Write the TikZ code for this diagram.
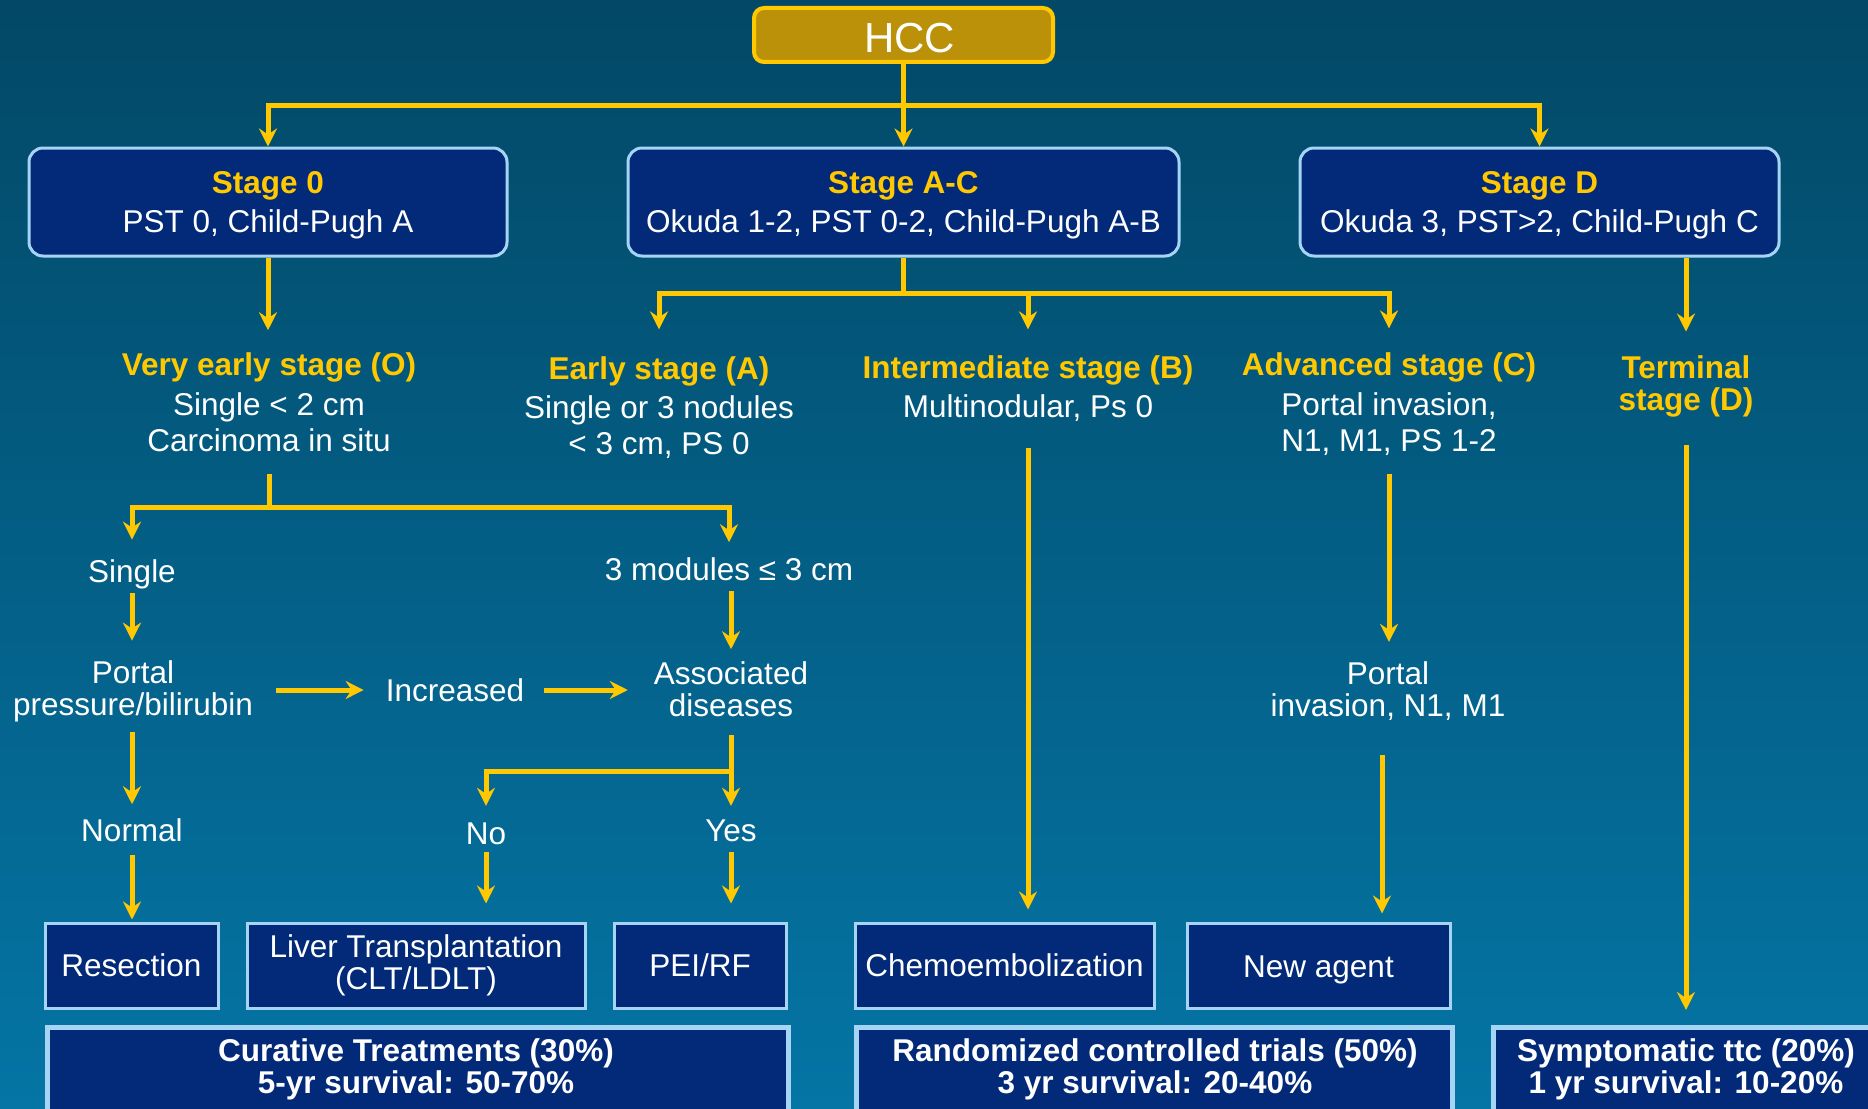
\documentclass[tikz,border=0pt]{standalone}
\usepackage{fontspec}
\setmainfont{Liberation Sans}
\usetikzlibrary{arrows.meta,calc}
\definecolor{ylw}{HTML}{FFC800}
\definecolor{navy}{HTML}{022A78}
\definecolor{lblue}{HTML}{A6D4F5}
\definecolor{gold}{HTML}{BC910A}
\definecolor{bgtop}{HTML}{034866}
\definecolor{bgbot}{HTML}{0475A5}
\newcommand{\fsn}{\fontsize{31.5}{36}\selectfont}
\newcommand{\fst}{\fontsize{31.5}{32}\selectfont}
\newcommand{\fbb}{\fontsize{31.5}{32}\selectfont\bfseries}
\newcommand{\upstrut}{\rule{0pt}{28pt}}
\begin{document}
\begin{tikzpicture}[x=1pt,y=-1pt,
 ln/.style={draw=ylw, line width=5pt},
 arr/.style={ln, -{Stealth[length=18pt,width=18pt,inset=6pt]}},
 txt/.style={text=white, align=center, font=\fsn, inner sep=0pt},
 txtt/.style={text=white, align=center, font=\fst, inner sep=0pt},
 stagebox/.style={draw=lblue, line width=3pt, fill=navy, rounded corners=14pt, align=center, text=white, font=\fsn, minimum height=108pt, inner sep=0pt},
 treatbox/.style={draw=lblue, line width=3pt, fill=navy, minimum height=85pt, align=center, text=white, font=\fst, inner sep=0pt},
 bigbox/.style={draw=lblue, line width=5pt, fill=navy, inner sep=0pt, anchor=north west, minimum height=110pt},
 bigtxt/.style={text=white, align=center, font=\fbb, inner sep=0pt},
]
\useasboundingbox (0,0) rectangle (1868,1108);
\shade[top color=bgtop, bottom color=bgbot] (0,0) rectangle (1868,1108);
\clip (0,0) rectangle (1868,1108);

% top
\node[draw=ylw, line width=4pt, fill=gold, rounded corners=10pt, minimum width=299pt, minimum height=54pt, text=white, font=\fontsize{42}{48}\selectfont, inner sep=0pt] (hcc) at (903.5,35) {\hspace*{12pt}HCC\rule{0pt}{35pt}};

\node[stagebox, minimum width=478pt] (s0) at (268,202) {\upstrut\textcolor{ylw}{\bfseries Stage 0}\\[3pt] PST 0, Child-Pugh A};
\node[stagebox, minimum width=551pt] (sAC) at (903.5,202) {\upstrut\textcolor{ylw}{\bfseries Stage A-C}\\[3pt] Okuda 1-2, PST 0-2, Child-Pugh A-B};
\node[stagebox, minimum width=479pt] (sD) at (1539.5,202) {\upstrut\textcolor{ylw}{\bfseries Stage D}\\[3pt] Okuda 3, PST>2, Child-Pugh C};

% stage texts
\node[txt] (vearly) at (269,402) {\textcolor{ylw}{\bfseries Very early stage (O)}\\[4pt] Single < 2 cm\\ Carcinoma in situ};
\node[txt] (early) at (659,407.5) {\textcolor{ylw}{\bfseries Early stage (A)}\\[3pt] Single or 3 nodules\\ < 3 cm, PS 0};
\node[txt] (inter) at (1028,388.5) {\textcolor{ylw}{\bfseries Intermediate stage (B)}\\[3pt] Multinodular, Ps 0};
\node[txt] (adv) at (1389,404) {\textcolor{ylw}{\bfseries Advanced stage (C)}\\[4pt] Portal invasion,\\ N1, M1, PS 1-2};
\node[txt, text=ylw, font=\fbb] (term) at (1686,386.5) {Terminal\\ stage (D)};

% sub texts
\node[txt] (single) at (132,574.5) {Single};
\node[txt] (modules) at (729,569) {3 modules ≤ 3 cm};
\node[txtt] (portal) at (133,691.5) {Portal\\ pressure/bilirubin};
\node[txt] (incr) at (455,690) {Increased};
\node[txtt] (assoc) at (731,689) {Associated\\ diseases};
\node[txt] (normal) at (132,830) {Normal};
\node[txt] (no) at (486,834) {No};
\node[txt] (yes) at (731,831) {Yes};
\node[txtt] (portal2) at (1388,691.5) {Portal\\ invasion, N1, M1};

% treatments
\node[treatbox, minimum width=173pt] (resec) at (131.5,965.5) {Resection};
\node[treatbox, minimum width=338pt] (lt) at (416,965.5) {Liver Transplantation\\ (CLT/LDLT)};
\node[treatbox, minimum width=172pt] (pei) at (700,965.5) {PEI/RF};
\node[treatbox, minimum width=299pt] (chemo) at (1004.5,965.5) {Chemoembolization};
\node[treatbox, minimum width=263pt] (newag) at (1318.5,965.5) {New agent\rule{0pt}{29.6pt}};

% bottom boxes
\node[bigbox, minimum width=741pt] (curbox) at (45,1025) {};
\node[bigbox, minimum width=596pt] (rctbox) at (854,1025) {};
\node[bigbox, minimum width=400pt] (symbox) at (1491,1025) {};
\node[bigtxt] (curtxt) at (416,1069.5) {Curative Treatments (30\%)\\ 5-yr survival: 50-70\%};
\node[bigtxt] (rcttxt) at (1155,1069.5) {Randomized controlled trials (50\%)\\ 3 yr survival: 20-40\%};
\node[bigtxt] (symtxt) at (1686,1069.5) {Symptomatic ttc (20\%)\\ 1 yr survival: 10-20\%};

% connectors
\coordinate (jH) at (903.5,105);
\draw[ln] (hcc.south) -- (jH);
\draw[arr] (jH) -| (s0.north);
\draw[arr] (jH) -| (sD.north);
\draw[arr] (jH) -- (sAC.north);

\draw[arr, shorten >=22pt] (s0.south) -- (s0.south |- vearly.north);

\coordinate (jAC) at (903.5,293);
\draw[ln] (sAC.south) -- (jAC);
\draw[arr, shorten >=27pt] (jAC) -| (early.north);
\draw[arr, shorten >=26pt] (jAC) -| (inter.north);
\draw[arr, shorten >=24pt] (jAC) -| (adv.north);

\draw[arr, shorten >=24pt] (sD.south -| term.north) -- (term.north);

\coordinate (jV) at (269,507);
\draw[ln, shorten <=22pt] (vearly.south) -- (jV);
\draw[arr, shorten >=20pt] (jV) -| (single.north);
\draw[arr, shorten >=15pt] (jV) -| (modules.north);

\draw[arr, shorten <=4pt, shorten >=20pt] (single.south) -- (single.south |- portal.north);
\draw[arr, shorten <=10pt, shorten >=12pt] (assoc.north |- modules.south) -- (assoc.north);
\draw[arr, shorten <=23pt, shorten >=22pt] (portal.east |- incr.west) -- (incr.west);
\draw[arr, shorten <=20pt, shorten >=26pt] (incr.east) -- (incr.east -| assoc.west);
\draw[arr, shorten <=10pt, shorten >=14pt] (single.south |- portal.south) -- (single.south |- normal.north);
\draw[arr, shorten <=13.5pt, shorten >=2pt] (normal.south) -- (normal.south |- resec.north);

\coordinate (jS) at (731,771);
\draw[ln, shorten <=18pt] (assoc.south) -- (jS);
\draw[arr, shorten >=17pt] (jS) -| (no.north);
\draw[arr, shorten >=14pt] (jS) -- (yes.north);
\draw[arr, shorten <=7pt, shorten >=18pt] (no.south) -- (no.south |- lt.north);
\draw[arr, shorten <=10pt, shorten >=18pt] (yes.south) -- (yes.south |- pei.north);

\draw[arr, shorten <=26pt, shorten >=12pt] (inter.south) -- (inter.south |- chemo.north);
\draw[arr, shorten <=18pt, shorten >=20pt] (adv.south) -- (adv.south |- portal2.north);
\draw[arr, shorten <=34pt, shorten >=8pt] ([xshift=-6pt]portal2.south) -- ([xshift=-6pt]portal2.south |- newag.north);
\draw[arr, shorten <=28pt, shorten >=15pt] (term.south) -- (term.south |- symbox.north);
\end{tikzpicture}
\end{document}
